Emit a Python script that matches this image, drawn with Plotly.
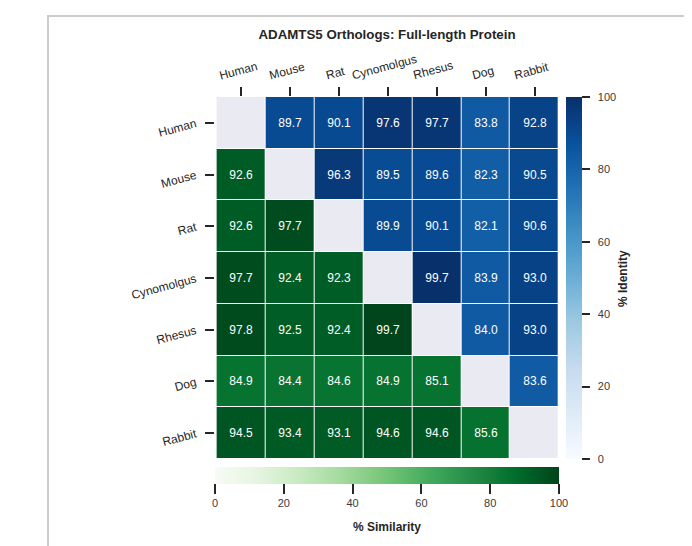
import plotly.graph_objects as go

species = ["Human", "Mouse", "Rat", "Cynomolgus", "Rhesus", "Dog", "Rabbit"]

# Upper triangle: % identity (row species vs column species)
identity = [
    [None, 89.7, 90.1, 97.6, 97.7, 83.8, 92.8],
    [None, None, 96.3, 89.5, 89.6, 82.3, 90.5],
    [None, None, None, 89.9, 90.1, 82.1, 90.6],
    [None, None, None, None, 99.7, 83.9, 93.0],
    [None, None, None, None, None, 84.0, 93.0],
    [None, None, None, None, None, None, 83.6],
    [None, None, None, None, None, None, None],
]

# Lower triangle: % similarity
similarity = [
    [None, None, None, None, None, None, None],
    [92.6, None, None, None, None, None, None],
    [92.6, 97.7, None, None, None, None, None],
    [97.7, 92.4, 92.3, None, None, None, None],
    [97.8, 92.5, 92.4, 99.7, None, None, None],
    [84.9, 84.4, 84.6, 84.9, 85.1, None, None],
    [94.5, 93.4, 93.1, 94.6, 94.6, 85.6, None],
]

diagonal = [[1 if i == j else None for j in range(7)] for i in range(7)]

colorbar_ticks = [0, 20, 40, 60, 80, 100]

blues = ['rgb(247,251,255)', 'rgb(222,235,247)', 'rgb(198,219,239)', 'rgb(158,202,225)',
         'rgb(107,174,214)', 'rgb(66,146,198)', 'rgb(33,113,181)', 'rgb(8,81,156)', 'rgb(8,48,107)']
greens = ['rgb(247,252,245)', 'rgb(229,245,224)', 'rgb(199,233,192)', 'rgb(161,217,155)',
          'rgb(116,196,118)', 'rgb(65,171,93)', 'rgb(35,139,69)', 'rgb(0,109,44)', 'rgb(0,68,27)']


def scale(cols):
    n = len(cols) - 1
    return [[i / n, c] for i, c in enumerate(cols)]


FONT = "Liberation Sans, Arial, sans-serif"
DARK = "#262626"
GREY = "#3a3a3a"

fig = go.Figure()

fig.add_trace(go.Heatmap(
    z=diagonal, x=species, y=species,
    colorscale=[[0, "#EAEAF2"], [1, "#EAEAF2"]],
    showscale=False, xgap=1, ygap=1, hoverinfo="skip",
))

fig.add_trace(go.Heatmap(
    z=identity, x=species, y=species,
    colorscale=scale(blues), zmin=0, zmax=100,
    xgap=1, ygap=1,
    texttemplate="%{z:.1f}",
    textfont=dict(color="white", size=12, family=FONT),
    colorbar=dict(
        x=1.0203, xanchor="left", y=0.5, yanchor="middle",
        len=1.0, lenmode="fraction", thickness=16,
        xpad=0, ypad=0, outlinewidth=0,
        tickvals=colorbar_ticks,
        ticktext=["\u00a0\u00a0" + str(v) for v in colorbar_ticks],
        ticks="outside", ticklen=8, tickwidth=2,
        tickcolor=DARK, tickfont=dict(size=11, color=GREY, family=FONT),
    ),
))

fig.add_trace(go.Heatmap(
    z=similarity, x=species, y=species,
    colorscale=scale(greens), zmin=0, zmax=100,
    xgap=1, ygap=1,
    texttemplate="%{z:.1f}",
    textfont=dict(color="white", size=12, family=FONT),
    colorbar=dict(
        orientation="h",
        x=0.5, xanchor="center", y=-0.022, yanchor="top",
        len=1.0, lenmode="fraction", thickness=17,
        xpad=0, ypad=0, outlinewidth=0,
        tickvals=colorbar_ticks, ticks="outside", ticklen=10, tickwidth=2,
        tickcolor=DARK, tickfont=dict(size=11, color=GREY, family=FONT),
    ),
))

fig.update_xaxes(
    side="top", ticks="outside", ticklen=9, tickwidth=2, tickcolor=DARK,
    showticklabels=False,
    showgrid=False, zeroline=False, showline=False,
)
fig.update_yaxes(
    autorange="reversed", tickangle=-15, ticks="outside", ticklen=9, tickwidth=2,
    tickcolor=DARK, tickfont=dict(size=12, color=DARK, family=FONT),
    ticklabelstandoff=7,
    showgrid=False, zeroline=False, showline=False,
)

# top (column) labels, centred on their ticks and rotated
for name in species:
    fig.add_annotation(
        x=name, xref="x", y=1, yref="paper", yanchor="bottom", xanchor="center",
        yshift=12, xshift=-3, text=name, textangle=-15, showarrow=False,
        font=dict(size=12, color=DARK, family=FONT),
    )

# colorbar titles
fig.add_annotation(
    x=1.186, xref="paper", y=0.5, yref="paper", xanchor="center", yanchor="middle",
    text="<b>% Identity</b>", textangle=-90, showarrow=False,
    font=dict(size=12, color=DARK, family=FONT),
)
fig.add_annotation(
    x=0.5, xref="paper", y=-0.1878, yref="paper", xanchor="center", yanchor="middle",
    text="<b>% Similarity</b>", showarrow=False,
    font=dict(size=12, color=DARK, family=FONT),
)

fig.add_shape(type="rect", xref="paper", yref="paper",
              x0=-0.4855, y0=-0.5, x1=1.6, y1=1.2238,
              line=dict(color="#cccccc", width=2), fillcolor="rgba(0,0,0,0)", layer="below")

fig.update_layout(
    width=692, height=546,
    margin=dict(l=207, r=141, t=89, b=95),
    paper_bgcolor="white", plot_bgcolor="white",
    font=dict(family=FONT, color=DARK),
    title=dict(text="<b>ADAMTS5 Orthologs: Full-length Protein</b>",
               x=0.5, xref="paper", xanchor="center",
               y=1 - 26 / 546, yref="container", yanchor="middle",
               font=dict(size=13.3, color=DARK, family=FONT)),
)

fig.write_html("out.html")
